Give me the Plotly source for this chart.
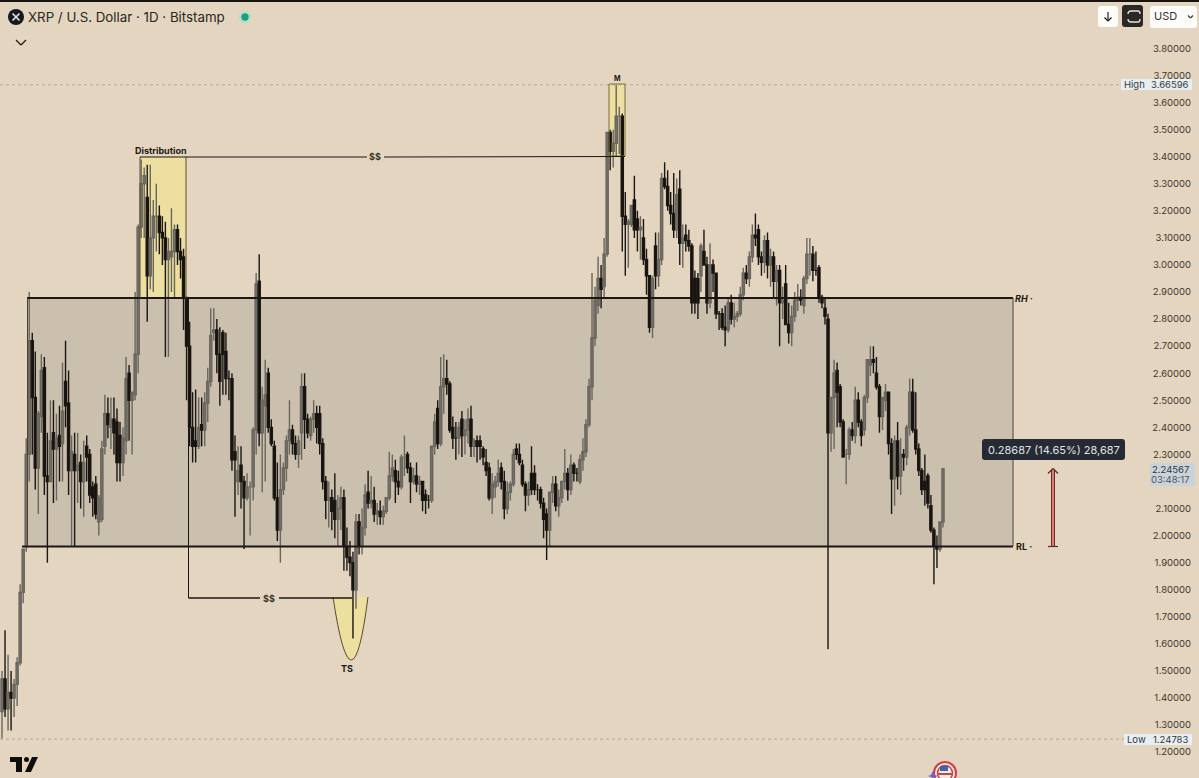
import plotly.graph_objects as go

opens = [
 1.35,1.47,1.36,1.42,1.40,1.45,1.53,1.79,1.96,2.30,
 2.72,2.51,2.25,2.44,2.62,2.22,2.20,2.38,2.32,2.37,
 2.34,2.57,2.49,2.24,2.30,2.24,2.27,2.20,2.33,2.30,
 2.18,2.19,2.05,2.06,2.33,2.45,2.40,2.43,2.42,2.37,
 2.27,2.35,2.60,2.50,2.52,2.67,3.14,3.30,3.25,2.96,
 3.10,3.18,3.18,3.12,3.10,3.02,3.03,3.05,3.13,3.05,
 3.03,2.88,2.70,2.40,2.35,2.33,2.41,2.39,2.49,2.57,
 2.75,2.76,2.67,2.75,2.68,2.58,2.58,2.31,2.20,2.26,
 2.20,2.14,2.18,2.18,2.39,2.94,2.38,2.48,2.60,2.40,
 2.33,2.14,2.02,2.17,2.25,2.35,2.39,2.34,2.30,2.38,
 2.55,2.43,2.37,2.43,2.45,2.45,2.34,2.20,2.13,2.14,
 2.13,2.06,2.10,2.14,1.96,1.92,1.90,1.80,2.05,1.96,
 2.03,2.16,2.12,2.13,2.08,2.09,2.07,2.09,2.14,2.22,
 2.24,2.20,2.18,2.29,2.30,2.25,2.20,2.22,2.19,2.20,
 2.15,2.13,2.13,2.33,2.47,2.34,2.55,2.58,2.56,2.40,
 2.36,2.36,2.43,2.37,2.39,2.43,2.33,2.35,2.35,2.32,
 2.27,2.25,2.14,2.18,2.20,2.25,2.20,2.10,2.16,2.19,
 2.32,2.30,2.26,2.19,2.15,2.23,2.23,2.17,2.17,2.12,
 2.08,2.02,2.16,2.19,2.11,2.14,2.20,2.23,2.17,2.26,
 2.23,2.20,2.28,2.31,2.41,2.55,2.73,2.85,2.95,2.92,
 3.04,3.49,3.42,3.45,3.55,3.55,3.18,3.15,3.15,3.24,
 3.17,3.13,3.10,3.02,2.96,2.77,3.07,2.96,3.02,3.32,
 3.29,3.22,3.19,3.13,3.28,3.08,3.11,3.09,3.07,2.95,
 2.95,2.96,3.05,3.00,2.86,3.00,2.97,2.82,2.82,2.77,
 2.76,2.86,2.80,2.81,2.82,2.89,2.97,2.95,3.03,3.11,
 3.13,3.03,3.01,3.09,3.00,3.03,2.94,2.98,2.86,2.93,
 2.78,2.75,2.81,2.87,2.88,2.85,2.95,3.04,3.04,2.98,
 2.99,2.88,2.84,2.80,2.38,2.51,2.61,2.55,2.42,2.30,
 2.30,2.39,2.37,2.50,2.42,2.39,2.51,2.63,2.65,2.60,
 2.55,2.44,2.50,2.53,2.34,2.21,2.35,2.22,2.30,2.29,
 2.40,2.53,2.39,2.32,2.24,2.20,2.22,2.11,2.02,1.96,1.95,2.05,
]
highs = [
 1.50,1.65,1.56,1.50,1.47,1.55,1.82,1.95,2.36,2.90,
 2.75,2.68,2.46,2.67,2.66,2.38,2.50,2.50,2.45,2.48,
 2.64,2.72,2.61,2.37,2.38,2.38,2.30,2.35,2.37,2.32,
 2.20,2.22,2.15,2.35,2.52,2.51,2.51,2.51,2.47,2.42,
 2.40,2.66,2.63,2.53,2.90,3.15,3.39,3.36,3.37,3.37,
 3.24,3.30,3.22,3.18,3.16,3.10,3.21,3.15,3.15,3.10,
 3.06,2.88,2.79,2.53,2.54,2.51,2.51,2.53,2.62,2.84,
 2.84,2.80,2.77,2.76,2.75,2.61,2.60,2.37,2.33,2.33,
 2.22,2.23,2.20,2.40,2.97,3.04,2.55,2.65,2.62,2.43,
 2.35,2.27,2.30,2.27,2.37,2.50,2.41,2.37,2.37,2.60,
 2.60,2.45,2.44,2.50,2.48,2.48,2.36,2.22,2.20,2.17,
 2.23,2.15,2.18,2.17,2.03,1.98,1.94,2.08,2.08,2.10,
 2.19,2.24,2.22,2.18,2.12,2.13,2.11,2.14,2.31,2.30,
 2.28,2.24,2.30,2.37,2.31,2.27,2.25,2.27,2.22,2.20,
 2.17,2.15,2.33,2.45,2.50,2.66,2.67,2.65,2.57,2.44,
 2.42,2.42,2.46,2.43,2.47,2.48,2.36,2.37,2.37,2.33,
 2.32,2.27,2.23,2.22,2.28,2.27,2.24,2.20,2.20,2.32,
 2.34,2.34,2.28,2.20,2.20,2.33,2.26,2.19,2.18,2.14,
 2.10,2.16,2.22,2.22,2.17,2.20,2.32,2.25,2.30,2.27,
 2.25,2.30,2.36,2.43,2.58,2.97,2.92,3.03,3.00,3.10,
 3.49,3.50,3.50,3.666,3.585,3.56,3.27,3.17,3.22,3.33,
 3.20,3.18,3.17,3.06,2.96,2.96,3.12,3.12,3.34,3.38,
 3.35,3.27,3.34,3.32,3.35,3.15,3.15,3.13,3.08,2.98,
 2.97,3.08,3.13,3.03,3.08,3.02,2.97,2.83,2.84,2.85,
 2.88,2.89,2.86,2.83,2.92,2.99,3.00,3.05,3.15,3.19,
 3.15,3.05,3.11,3.12,3.06,3.05,3.00,3.00,2.92,3.00,
 2.86,2.85,2.90,2.93,2.91,2.96,3.10,3.10,3.07,3.05,
 3.00,2.89,2.88,2.82,2.51,2.65,2.64,2.56,2.43,2.32,
 2.40,2.42,2.55,2.53,2.43,2.52,2.65,2.70,2.70,2.66,
 2.56,2.51,2.56,2.53,2.36,2.37,2.42,2.36,2.32,2.41,
 2.58,2.58,2.53,2.34,2.25,2.30,2.23,2.15,2.03,2.00,2.05,2.25,
]
lows = [
 1.25,1.33,1.28,1.28,1.33,1.37,1.52,1.75,1.94,2.20,
 2.30,2.17,2.08,2.38,2.15,1.90,2.20,2.12,2.13,2.20,
 2.20,2.40,2.15,1.96,1.96,2.12,2.10,2.07,2.20,2.12,
 2.07,2.06,2.00,2.05,2.30,2.36,2.32,2.30,2.20,2.20,
 2.22,2.30,2.35,2.30,2.50,2.60,3.10,3.10,2.79,2.91,
 2.90,3.05,3.04,3.00,2.66,2.66,2.90,2.88,3.00,2.95,
 2.76,2.50,2.33,2.27,2.27,2.32,2.33,2.33,2.42,2.55,
 2.72,2.60,2.48,2.52,2.52,2.50,2.24,2.07,2.15,2.10,
 1.95,2.13,2.00,2.13,2.30,2.33,2.16,2.20,2.38,2.33,
 2.13,1.98,1.90,2.15,2.20,2.30,2.30,2.28,2.25,2.28,
 2.32,2.36,2.35,2.38,2.34,2.30,2.17,2.06,2.03,2.02,
 1.99,1.96,2.02,1.87,1.87,1.85,1.62,1.73,1.93,1.93,
 2.00,2.10,2.10,2.05,2.04,2.04,2.04,2.08,2.13,2.20,
 2.12,2.15,2.17,2.22,2.23,2.12,2.19,2.16,2.15,2.09,
 2.08,2.10,2.12,2.30,2.32,2.33,2.45,2.52,2.38,2.32,
 2.28,2.30,2.29,2.30,2.34,2.29,2.29,2.27,2.28,2.26,
 2.22,2.13,2.08,2.14,2.18,2.17,2.06,2.08,2.13,2.18,
 2.28,2.26,2.18,2.09,2.11,2.15,2.15,2.13,2.10,1.99,
 1.91,1.96,2.12,2.09,2.07,2.12,2.17,2.13,2.15,2.20,
 2.20,2.19,2.24,2.29,2.40,2.50,2.70,2.82,2.84,2.88,
 3.03,3.35,3.36,3.40,3.41,3.05,2.96,2.99,3.14,3.10,
 3.05,3.02,3.00,2.89,2.75,2.73,2.91,2.92,3.00,3.28,
 3.20,3.15,3.10,3.10,3.00,2.99,3.05,3.05,2.82,2.82,
 2.80,2.90,3.00,2.82,2.84,2.90,2.80,2.76,2.76,2.70,
 2.75,2.78,2.77,2.79,2.81,2.87,2.93,2.92,3.01,3.07,
 3.00,2.96,2.97,2.95,2.92,2.88,2.85,2.70,2.80,2.78,
 2.71,2.70,2.79,2.83,2.85,2.82,2.93,2.96,2.94,2.96,
 2.86,2.84,2.78,1.58,2.31,2.32,2.40,2.40,2.29,2.19,
 2.28,2.35,2.34,2.40,2.33,2.37,2.49,2.59,2.60,2.54,
 2.38,2.39,2.46,2.30,2.08,2.11,2.17,2.15,2.24,2.26,
 2.37,2.38,2.30,2.22,2.15,2.11,2.10,2.01,1.82,1.88,1.94,2.03,
]
closes = [
 1.47,1.36,1.42,1.40,1.45,1.53,1.79,1.95,2.30,2.72,
 2.51,2.25,2.45,2.61,2.22,2.20,2.35,2.32,2.36,2.33,
 2.46,2.48,2.24,2.31,2.24,2.26,2.20,2.27,2.29,2.15,
 2.14,2.08,2.14,2.32,2.45,2.41,2.43,2.38,2.27,2.27,
 2.36,2.58,2.50,2.53,2.67,3.14,3.30,3.33,2.96,3.10,
 3.18,3.18,3.12,3.10,3.02,3.05,3.05,3.13,3.05,3.02,
 2.88,2.70,2.40,2.33,2.33,2.40,2.39,2.49,2.57,2.74,
 2.76,2.67,2.57,2.67,2.58,2.58,2.28,2.28,2.24,2.20,
 2.14,2.18,2.18,2.39,2.93,2.38,2.50,2.52,2.40,2.34,
 2.14,2.02,2.17,2.25,2.35,2.39,2.34,2.30,2.35,2.55,
 2.43,2.38,2.43,2.45,2.40,2.34,2.20,2.13,2.14,2.09,
 2.06,2.10,2.14,1.96,1.92,1.90,1.80,2.05,1.96,2.03,
 2.15,2.12,2.13,2.08,2.09,2.07,2.09,2.14,2.22,2.25,
 2.20,2.18,2.29,2.29,2.25,2.20,2.22,2.19,2.20,2.13,
 2.13,2.13,2.33,2.42,2.34,2.55,2.58,2.56,2.39,2.36,
 2.36,2.40,2.37,2.39,2.43,2.33,2.35,2.33,2.33,2.29,
 2.24,2.14,2.19,2.20,2.23,2.20,2.10,2.16,2.19,2.30,
 2.30,2.27,2.19,2.15,2.17,2.17,2.17,2.17,2.12,2.06,
 2.02,2.16,2.19,2.11,2.14,2.20,2.23,2.17,2.26,2.23,
 2.23,2.28,2.31,2.41,2.55,2.73,2.87,2.95,2.91,3.04,
 3.49,3.42,3.45,3.55,3.55,3.18,3.15,3.16,3.22,3.13,
 3.13,3.14,3.02,2.96,2.77,2.95,2.96,3.02,3.32,3.29,
 3.22,3.19,3.13,3.26,3.08,3.10,3.09,3.07,2.86,2.86,
 2.86,3.07,3.00,2.86,3.00,2.97,2.82,2.82,2.77,2.76,
 2.86,2.80,2.81,2.82,2.89,2.97,2.95,3.03,3.11,3.10,
 3.03,3.01,3.09,3.00,3.03,2.94,2.98,2.86,2.87,2.78,
 2.75,2.81,2.87,2.88,2.87,2.95,3.04,3.04,2.98,2.98,
 2.88,2.86,2.81,2.38,2.51,2.60,2.53,2.42,2.29,2.30,
 2.39,2.37,2.50,2.42,2.37,2.51,2.65,2.65,2.64,2.55,
 2.44,2.51,2.53,2.34,2.21,2.35,2.22,2.30,2.29,2.40,
 2.53,2.39,2.32,2.24,2.17,2.17,2.12,2.02,1.96,1.95,2.05,2.246,
]
price_ticks = [1.2,1.3,1.4,1.5,1.6,1.7,1.8,1.9,2.0,2.1,2.3,2.4,2.5,2.6,2.7,2.8,2.9,3.0,3.1,3.2,3.3,3.4,3.5,3.6,3.7,3.8]
range_high, range_low = 2.878, 1.960
high_price, low_price = 3.66596, 1.24783

W, H = 1199, 778
BG = "#e3d5bf"; INK = "#1c1712"; YEL = "#ecdf9f"; BAND = "#cbbfae"
FONT = "Inter, 'Open Sans', sans-serif"
N = len(closes)
s = (943 - 2) / (N - 1)
days = list(range(N))
px = lambda x: x / W
py = lambda y: 1 - y / H
ytop = 3.8 + 48.5 / 270.6
ybot = 3.8 - (H - 48.5) / 270.6

fig = go.Figure(go.Candlestick(
    x=days, open=opens, high=highs, low=lows, close=closes,
    increasing=dict(line=dict(color="#6a665e", width=1.4), fillcolor="#77736b"),
    decreasing=dict(line=dict(color="#1a1612", width=1.4), fillcolor="#14100c"),
    whiskerwidth=0, hoverinfo="skip", showlegend=False))

shapes = []
def rect(x0, y0, x1, y1, fill=None, line=None, lw=1, layer="above", yref="paper"):
    if yref == "paper":
        y0, y1 = py(y0), py(y1)
    shapes.append(dict(type="rect", xref="paper", yref=yref, x0=px(x0), x1=px(x1), y0=y0, y1=y1,
                       fillcolor=fill or "rgba(0,0,0,0)", line=dict(color=line or "rgba(0,0,0,0)", width=lw if line else 0), layer=layer))
def seg(x0, y0, x1, y1, color=INK, lw=1, dash=None, layer="above"):
    shapes.append(dict(type="line", xref="paper", yref="paper", x0=px(x0), x1=px(x1), y0=py(y0), y1=py(y1),
                       line=dict(color=color, width=lw, dash=dash or "solid"), layer=layer))
def path(points, fill=None, line=None, lw=0, layer="above"):
    d = ""
    for p in points:
        if isinstance(p, str):
            d += p + " "
        else:
            d += f"{px(p[0]):.5f},{py(p[1]):.5f} "
    shapes.append(dict(type="path", xref="paper", yref="paper", path=d,
                       fillcolor=fill or "rgba(0,0,0,0)", line=dict(color=line or "rgba(0,0,0,0)", width=lw), layer=layer))
def rrect(x0, y0, x1, y1, r, fill):
    path(["M", (x0 + r, y0), "L", (x1 - r, y0), "Q", (x1, y0), (x1, y0 + r), "L", (x1, y1 - r), "Q", (x1, y1), (x1 - r, y1),
          "L", (x0 + r, y1), "Q", (x0, y1), (x0, y1 - r), "L", (x0, y0 + r), "Q", (x0, y0), (x0 + r, y0), "Z"], fill=fill)
def circ(cx, cy, r, fill, line=None, lw=0):
    shapes.append(dict(type="circle", xref="paper", yref="paper", x0=px(cx - r), x1=px(cx + r), y0=py(cy + r), y1=py(cy - r),
                       fillcolor=fill, line=dict(color=line or "rgba(0,0,0,0)", width=lw), layer="above"))

# range band and yellow zones, below the candles
rect(27, range_low, 1013, range_high, fill=BAND, layer="below", yref="y")
rect(140, 157, 186, 298, fill=YEL, layer="below")
rect(609, 84, 625, 156, fill=YEL, layer="below")
path(["M", (333, 597), "Q", (352, 723), (368, 597), "Z"], fill=YEL, layer="below")
# outlines
seg(27, 298, 1013, 298, lw=2)
seg(22, 546.5, 1013, 546.5, lw=2)
seg(27.5, 298, 27.5, 546, lw=1, color="#4a4236")
seg(1013, 298, 1013, 546, lw=1, color="#4a4236")
seg(140, 157, 140, 298, lw=1, color="#5a5030")
seg(186, 157, 186, 298, lw=1, color="#5a5030")
rect(609, 84, 625, 156, line="#7a6c3a", lw=1)
path(["M", (333, 597), "Q", (352, 723), (368, 597)], line="#5a4d2a", lw=1)
# liquidity lines
seg(140, 157, 367, 157, lw=1)
seg(384, 157, 625, 156.5, lw=1)
seg(188.5, 298, 188.5, 598, lw=1)
seg(188.5, 598, 260, 598, lw=1.5)
seg(279, 598, 352, 598, lw=1.5)
# high / low
for v, xe in ((high_price, 1121), (low_price, 1124)):
    shapes.append(dict(type="line", xref="paper", yref="y", x0=0, x1=px(xe), y0=v, y1=v,
                       line=dict(color="#b3a994", width=1, dash="dot"), layer="below"))
# top edge
rect(0, 0, W, 2, fill="#17130f")
# arrow
seg(1053, 470, 1053, 547, color="#6b2a22", lw=4)
seg(1053, 470, 1053, 547, color="#dc7a78", lw=2)
seg(1048, 473.5, 1053, 468.5, color="#5d2a22", lw=1.2)
seg(1058, 473.5, 1053, 468.5, color="#5d2a22", lw=1.2)
seg(1048, 546.5, 1058, 546.5, color="#5d2a22", lw=1.2)
# tooltip
rrect(982, 439, 1125, 460, 3, "#262a33")
# price labels
rect(1121, 79, 1192, 90, fill="#e9eef0")
rect(1124, 734, 1192, 745, fill="#e9eef0")
rect(1150, 463, 1195, 486, fill="#ccd3d8")
# header
circ(16, 17, 8, "#15181f")
seg(12.5, 13.5, 19.5, 20.5, color="#e8e8e8", lw=1.6)
seg(19.5, 13.5, 12.5, 20.5, color="#e8e8e8", lw=1.6)
circ(245, 17, 6.5, "#bcdcc9")
circ(245, 17, 3.7, "#17a27c")
seg(16, 40, 21, 45, lw=1.3)
seg(26, 40, 21, 45, lw=1.3)
# toolbar
rrect(1098, 6, 1118, 27, 3, "#fdfcf8")
rrect(1122, 5, 1143, 27, 3, "#2a2725")
rrect(1150, 6, 1197, 28, 3, "#fdfcf8")
seg(1108, 12, 1108, 21, color="#222", lw=1.2)
seg(1104.5, 17.5, 1108, 21, color="#222", lw=1.2)
seg(1111.5, 17.5, 1108, 21, color="#222", lw=1.2)
path(["M", (1128, 14), "Q", (1128, 11), (1131, 11), "L", (1138, 11), "Q", (1140, 11), (1140, 14)], line="#e6e2da", lw=1.3)
path(["M", (1128, 19), "Q", (1128, 22), (1131, 22), "L", (1138, 22), "Q", (1140, 22), (1140, 19)], line="#e6e2da", lw=1.3)
seg(1188, 15.5, 1190.5, 18, color="#333", lw=1.1)
seg(1193, 15.5, 1190.5, 18, color="#333", lw=1.1)
# TradingView mark
path(["M", (10, 757), "L", (22, 757), "L", (22, 772), "L", (16, 772), "L", (16, 762), "L", (10, 762), "Z"], fill="#0f0c09")
circ(26.5, 759.5, 2.5, "#0f0c09")
path(["M", (32, 757), "L", (38, 757), "L", (31, 772), "L", (25, 772), "Z"], fill="#0f0c09")
# badge
circ(945, 773, 13, "#ecc9bb")
circ(945, 773, 11, "#f4ece2", line="#c9424a", lw=2)
circ(945, 773, 7.5, "#f4ece2", line="#c9424a", lw=1.5)
rect(940, 766, 948, 771, fill="#3f62ad")
seg(938, 774, 952, 774, color="#c9424a", lw=2)
path(["M", (933, 771), "L", (935, 775), "L", (938, 776), "L", (935, 777), "L", (933, 778), "L", (931, 777), "L", (928, 776), "L", (931, 775), "Z"], fill="#7b5bc0")

ann = []
def text(x, y, t, size=10, color=INK, anchor="left", bold=False):
    if bold:
        t = f"<b>{t}</b>"
    ann.append(dict(xref="paper", yref="paper", x=px(x), y=py(y), text=t, showarrow=False, borderpad=0,
                    xanchor=anchor, yanchor="middle", font=dict(family=FONT, size=size, color=color)))

text(27, 17, "XRP / U.S. Dollar · 1D · Bitstamp", size=13.3, color="#2a2620")
text(1153, 16.5, "USD", size=11, color="#333")
text(161, 151, "Distribution", size=9, anchor="center", bold=True)
text(617, 78, "M", size=7, anchor="center", bold=True)
text(347, 668, "TS", size=9, anchor="center", bold=True)
text(375, 157, "$$", size=9, anchor="center", color="#3c352a", bold=True)
text(269, 598, "$$", size=9, anchor="center", color="#3c352a", bold=True)
text(1014, 298.5, "<i>RH ·</i>", size=9, bold=True)
text(1015, 546.5, "RL ·", size=9, bold=True)
text(1053.5, 449.5, "0.28687 (14.65%) 28,687", size=11, color="#dfe3e8", anchor="center")
text(1123, 84.5, "High", size=9.5, color="#2f3a44")
text(1190, 84.5, "3.66596", size=9.5, color="#2f3a44", anchor="right")
text(1126, 739.5, "Low", size=9.5, color="#2f3a44")
text(1190, 739.5, "1.24783", size=9.5, color="#2f3a44", anchor="right")
text(1190, 469, "2.24567", size=9.5, color="#2d3942", anchor="right")
text(1191, 479.5, "03:48:17", size=9.5, color="#4a5660", anchor="right")
text(1190, 781, "1.10000", size=9.5, color="#3e372c", anchor="right")

fig.update_layout(
    width=W, height=H, margin=dict(l=0, r=0, t=0, b=0), autosize=False,
    paper_bgcolor=BG, plot_bgcolor=BG, shapes=shapes, annotations=ann, showlegend=False,
    dragmode=False, boxgap=0,
    xaxis=dict(range=[(0 - 2) / s, (W - 2) / s], domain=[0, 1], visible=False, rangeslider=dict(visible=False), fixedrange=True),
    yaxis=dict(range=[ybot, ytop], domain=[0, 1], side="right", ticklabelposition="inside", ticks="", showgrid=False, zeroline=False,
               showline=False, tickvals=price_ticks, ticktext=[f"{v:.5f}" for v in price_ticks], ticklabelstandoff=5,
               tickfont=dict(family=FONT, size=9.5, color="#3e372c"), fixedrange=True),
)
fig.write_html("out.html", config=dict(displayModeBar=False),
               post_script="document.body.style.margin='0';document.body.style.overflow='hidden';document.body.style.background='#e3d5bf';")
